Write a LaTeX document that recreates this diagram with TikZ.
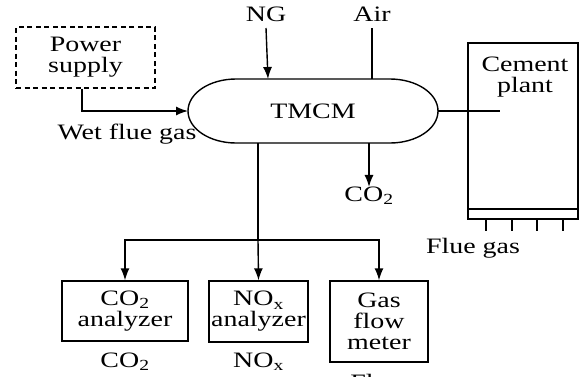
\documentclass[tikz,border=0pt]{standalone}
\usepackage{fontspec}
\setmainfont{Liberation Serif}[FakeStretch=1.27]
\usepackage{tikz}
\usetikzlibrary{arrows.meta}
\usetikzlibrary{positioning}
\tikzset{
   pipe/.style={draw=black, line width=1.4pt},
   flow/.style={pipe, -{Latex[length=12pt,width=9pt]}},
   unitbox/.style={draw=black, line width=1.4pt, align=center, inner sep=0pt},
   tag/.style={inner sep=0pt, align=center},
    }

\begin{document}
\begin{tikzpicture}
        [x=1pt,y=1pt,font=\fontsize{22}{21}\selectfont]
        \useasboundingbox (0,0) rectangle (585,-376);
        % power supply
        \node[unitbox,dashed,dash pattern=on 5pt off 3.5pt,minimum width=139pt,minimum height=61pt]
            (psu) at (85.5,-57.5) {Power\\supply};
        % membrane reactor
            \def \rx{48}
            \def \ry{32}
            \draw[pipe] (236,-79) -- (390,-79)
                arc[start angle=90,end angle=-90,x radius=\rx,y radius=\ry]
                -- (236,-143)
                arc[start angle=270,end angle=90,x radius=\rx,y radius=\ry] -- cycle;
        \node[tag] (tmcm) at (313,-111) {TMCM};
        \coordinate (tmcmW) at (188,-111);
        \coordinate (tmcmE) at (438,-111);
        \coordinate (ngin) at (268,-79);
        \coordinate (airin) at (372,-79);
        \coordinate (co2top) at (369,-143);
        \coordinate (trunk) at (258,-143);
        \coordinate (split) at (258,-240);
        % inlets and outlets
        \node[tag] (ng) at (266,-14) {NG};
        \node[tag] (air) at (372,-14) {Air};
        \draw[flow] (ng.south |- 0,-28) -- (ngin);
        \draw[pipe] (airin |- 0,-28) -- (airin);
        \draw[flow] ([xshift=-3.5pt]psu.south) |- (tmcmW);
        \node[tag] (wetgas) at (127,-134) {Wet flue gas};
        \node[tag] (co2out) at (369,-196) {CO\textsubscript{2}};
        \draw[flow] (co2top) -- (co2out.north);
        % cement plant
        \draw[pipe] (468,-43) rectangle (578,-219);
        \draw[pipe] (468,-209) -- (578,-209);
        \foreach \tx in {486,512,537,563}
            \draw[pipe] (\tx,-219) -- (\tx,-231);
        \node[tag] (cement) at (525,-77) {Cement\\plant};
        \draw[pipe] (tmcmE) -- (500,-111);
        \node[tag] (fluegas) at (473,-248) {Flue gas};
        % analyzers
        \node[unitbox,minimum width=126pt,minimum height=60pt] (co2an) at (125,-311) {CO\textsubscript{2}\\analyzer};
        \node[unitbox,minimum width=99pt,minimum height=61pt] (noxan) at (258.5,-311.5) {NO\textsubscript{x}\\analyzer};
        \node[unitbox,minimum width=98pt,minimum height=81pt] (gasmeter) at (379,-321.5) {Gas\\flow\\meter};
        \draw[pipe] (trunk) -- (split);
        \draw[flow] (split) -- (noxan.north);
        \draw[flow] (split) -| (co2an.north);
        \draw[flow] (split) -| (gasmeter.north);
        \node[tag] (co2sig) at (125,-362) {CO\textsubscript{2}};
        \node[tag] (noxsig) at (258.5,-362) {NO\textsubscript{x}};
        \node[tag] (flowsig) at (379,-382) {Flow};
        \end{tikzpicture}
\end{document}
